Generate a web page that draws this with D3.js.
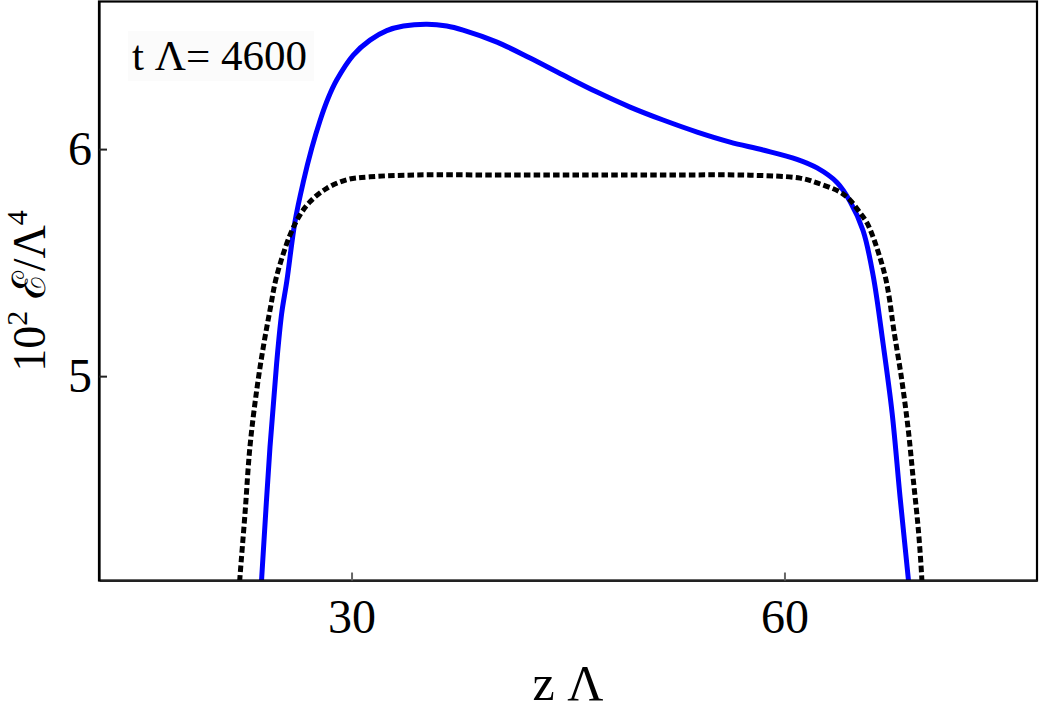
<!DOCTYPE html>
<html>
<head>
<meta charset="utf-8">
<script src="https://cdn.jsdelivr.net/npm/d3@7"></script>
<style>
  html, body { margin: 0; padding: 0; background: #fff; }
  svg { display: block; }
  text { font-family: "Liberation Serif", "DejaVu Serif", serif; fill: #000; }
</style>
</head>
<body>
<svg id="chart" width="1042" height="715"></svg>
<script>
// ---- data ----
const xTicks = [30, 60];
const yTicks = [5, 6];
const xDomain = [12.5, 77.5];
const yDomain = [4.1, 6.65];

// blue solid curve: z·Λ , 10^2 E/Λ^4
const blueZ = [23.67, 23.78, 24.35, 24.81, 25.16, 25.51, 26.08, 26.66, 27.24, 27.82, 28.39, 28.97, 30.12, 31.28, 32.44, 33.6, 35.23, 36.6, 37.73, 40.08, 42.37, 44.66, 47.01, 49.30, 51.59, 53.95, 56.23, 58.52, 60.87, 62.26, 63.64, 64.54, 65.45, 66.14, 66.83, 67.46, 68.01, 68.57, 68.72];
const blueE = [4.01, 4.117, 4.689, 5.057, 5.277, 5.416, 5.680, 5.856, 6.003, 6.126, 6.226, 6.304, 6.414, 6.480, 6.522, 6.542, 6.550, 6.542, 6.524, 6.471, 6.401, 6.326, 6.251, 6.185, 6.128, 6.075, 6.031, 5.996, 5.955, 5.917, 5.853, 5.770, 5.640, 5.445, 5.145, 4.838, 4.468, 4.115, 4.01];

// black dotted curve
const blackZ = [22.15, 22.27, 22.62, 22.96, 23.43, 23.89, 24.35, 24.81, 25.74, 26.43, 27.12, 28.28, 29.67, 31.28, 34.52, 40.0, 45.9, 52.0, 57.61, 61.08, 62.26, 63.85, 64.54, 65.24, 65.72, 66.14, 66.48, 66.77, 67.05, 67.30, 67.55, 68.13, 68.58, 68.93, 69.28, 69.51, 69.58];
const blackE = [4.01, 4.117, 4.397, 4.689, 4.939, 5.130, 5.291, 5.440, 5.622, 5.710, 5.768, 5.827, 5.865, 5.878, 5.886, 5.886, 5.886, 5.886, 5.885, 5.872, 5.851, 5.811, 5.776, 5.719, 5.675, 5.613, 5.550, 5.490, 5.420, 5.330, 5.215, 4.983, 4.763, 4.543, 4.322, 4.117, 4.01];

const annotation = "t Λ= 4600";

// ---- layout ----
const svg = d3.select("#chart");
const L = 99, R = 1037, T = 1.5, B = 580.5;

const x = d3.scaleLinear().domain(xDomain).range([L, R]);
const y = d3.scaleLinear().domain(yDomain).range([B, T]);

svg.append("defs").append("clipPath").attr("id", "clip")
  .append("rect").attr("x", L).attr("y", T).attr("width", R - L).attr("height", B - T);

// annotation background
svg.append("rect").attr("x", 128).attr("y", 31).attr("width", 186).attr("height", 50)
  .attr("fill", "#fbfbfb");
svg.append("text").attr("x", 132).attr("y", 70)
  .attr("font-size", 43).text(annotation);

const line = d3.line().x(d => x(d[0])).y(d => y(d[1])).curve(d3.curveCatmullRom.alpha(0.5));

const g = svg.append("g").attr("clip-path", "url(#clip)");
g.append("path").datum(blueZ.map((z, i) => [z, blueE[i]]))
  .attr("d", line).attr("fill", "none").attr("stroke", "#0000ff")
  .attr("stroke-width", 5).attr("stroke-linejoin", "round");
g.append("path").datum(blackZ.map((z, i) => [z, blackE[i]]))
  .attr("d", line).attr("fill", "none").attr("stroke", "#000")
  .attr("stroke-width", 5).attr("stroke-dasharray", "6.5,3.2");

// frame
svg.append("rect").attr("x", L).attr("y", T).attr("width", R - L).attr("height", B - T)
  .attr("fill", "none").attr("stroke", "#000").attr("stroke-width", 2.2);

// x axis (ticks inward)
const xAxis = d3.axisBottom(x).tickValues(xTicks).tickFormat(d3.format("d"))
  .tickSizeInner(-8).tickSizeOuter(0).tickPadding(18);
const gx = svg.append("g").attr("transform", `translate(0,${B})`).call(xAxis);
gx.select(".domain").attr("stroke", "#222").attr("stroke-width", 2.2);
gx.selectAll(".tick line").attr("stroke", "#666").attr("stroke-width", 2);
gx.selectAll(".tick text").attr("font-size", 48).attr("font-family", "Liberation Serif, serif").attr("fill", "#000");

// y axis (ticks inward)
const yAxis = d3.axisLeft(y).tickValues(yTicks).tickFormat(d3.format("d"))
  .tickSizeInner(-8).tickSizeOuter(0).tickPadding(7);
const gy = svg.append("g").attr("transform", `translate(${L},0)`).call(yAxis);
gy.select(".domain").attr("stroke", "#000").attr("stroke-width", 2.2);
gy.selectAll(".tick line").attr("stroke", "#222").attr("stroke-width", 2);
gy.selectAll(".tick text").attr("font-size", 48).attr("font-family", "Liberation Serif, serif").attr("fill", "#000");

// axis titles
const xt = svg.append("text").attr("x", 568).attr("y", 700).attr("text-anchor", "middle")
  .attr("font-size", 50);
xt.append("tspan").text("z Λ");

const yt = svg.append("text").attr("transform", `translate(45,${(T + B) / 2}) rotate(-90)`)
  .attr("text-anchor", "middle").attr("font-size", 46);
yt.append("tspan").text("10");
yt.append("tspan").attr("font-size", 30).attr("dy", -18).text("2");
yt.append("tspan").attr("dy", 18).text(" ℰ/Λ");
yt.append("tspan").attr("font-size", 30).attr("dy", -18).text("4");
</script>
</body>
</html>
